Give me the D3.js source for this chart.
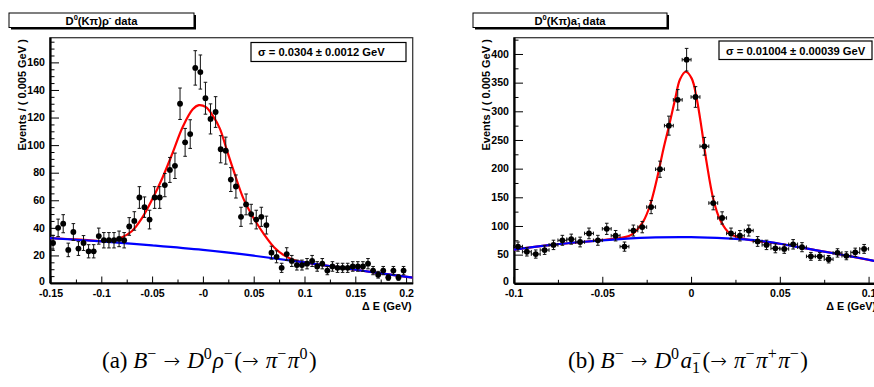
<!DOCTYPE html>
<html><head><meta charset="utf-8">
<script src="https://cdn.jsdelivr.net/npm/d3@7"></script>
<style>body{margin:0;background:#fff}svg{display:block}</style>
</head><body>
<svg id="c" width="874" height="387"></svg>
<script>
// ---------------- data ----------------
const binWidth = 0.005;
const rhoBinStart = -0.15;
const rhoCounts = [29,40,43,24,37,25,29,23,23,34,
                   31,31,31,32,31,41,45,62,55,46,
                   62,62,71,82,85,130,102,108,156,153,
                   134,119,124,97,96,75,70,48,57,50,
                   46,48,42,22,19,11,21,16,13,13,
                   14,16,12,14,9,12,11,11,11,12,
                   12,12,14,9,6,9,4,9,4,9];
const a1BinStart = -0.1;
const a1Counts = [64,55,51,58,67,75,77,72,87,75,
                  95,83,64,92,98,133,199,275,320,390,
                  325,239,140,114,87,83,92,73,67,61,
                  60,68,63,47,47,42,53,48,54,60];

// fit curves: [deltaE, events]
const rhoTotalFit = [[-0.1505,32.5],[-0.12,31.4],[-0.1,30.4],[-0.09,31],[-0.08,33],[-0.07,37.5],
  [-0.06,47],[-0.05,60.5],[-0.04,76],[-0.03,94],[-0.02,113],[-0.01,126],[-0.004,129],
  [0.003,127.5],[0.01,121],[0.0167,112],[0.0233,97],[0.03,82],[0.04,61],[0.05,47],
  [0.06,35.5],[0.07,26],[0.08,20],[0.09,16.5],[0.1,14.9],[0.15,9.6],[0.2065,3.9]];
const rhoBkgFit = [[-0.1505,32.5],[-0.1,30.2],[-0.05,27.3],[0,24],[0.05,19.8],[0.1,14.9],[0.15,9.6],[0.2065,3.9]];

const a1TotalFit = [[-0.1,58.5],[-0.08,66.5],[-0.06,72.5],[-0.045,77],[-0.04,79],[-0.035,82.5],
  [-0.0325,87],[-0.03,95],[-0.0269,108],[-0.023,137],[-0.0193,181],[-0.0156,234],[-0.0124,275],
  [-0.009,321],[-0.0062,356],[-0.003,369],[0.0004,357],[0.0032,322],[0.006,269],[0.0088,210],
  [0.0126,146],[0.0163,111],[0.022,86.5],[0.0276,79.5],[0.035,74.5],[0.05,69],[0.07,58],
  [0.09,47],[0.105,38]];
const a1BkgFit = [[-0.1,58.5],[-0.08,66.5],[-0.06,72.5],[-0.04,77],[-0.02,80],[0,80.5],[0.02,78.5],
  [0.03,76.5],[0.04,73.5],[0.05,69],[0.06,63.5],[0.07,58],[0.08,52.5],[0.09,47],[0.1,41],[0.105,38]];

const rhoXTicks = [-0.15,-0.1,-0.05,0,0.05,0.1,0.15,0.2];
const rhoXTickLabels = ["-0.15","-0.1","-0.05","-0","0.05","0.1","0.15","0.2"];
const rhoYTicks = [0,20,40,60,80,100,120,140,160];
const a1XTicks = [-0.1,-0.05,0,0.05,0.1];
const a1XTickLabels = ["-0.1","-0.05","0","0.05","0.1"];
const a1YTicks = [0,50,100,150,200,250,300,350,400];

const yAxisTitle = "Events / ( 0.005 GeV )";
const xAxisTitle = "\u0394 E (GeV)";
const rhoSigmaText = "\u03c3 =  0.0304 \u00b1 0.0012 GeV";
const a1SigmaText = "\u03c3 =  0.01004 \u00b1 0.00039 GeV";

// ---------------- drawing ----------------
const svg = d3.select("#c");
const SANS = "'Liberation Sans', Arial, Helvetica, sans-serif";
const SERIF = "'Liberation Serif', 'Times New Roman', serif";

function drawPanel(p) {
  const x = d3.scaleLinear().domain(p.xDomain).range([p.left, p.right]);
  const y = d3.scaleLinear().domain(p.yDomain).range([p.bottom, p.top]);
  const g = svg.append("g");

  g.append("rect").attr("x", p.left).attr("y", p.top)
    .attr("width", p.right - p.left).attr("height", p.bottom - p.top)
    .attr("fill", "none").attr("stroke", "#3a3a3a").attr("stroke-width", 1.3);

  const clipId = "clip" + p.id;
  svg.append("clipPath").attr("id", clipId).append("rect")
    .attr("x", p.left).attr("y", p.top).attr("width", p.right - p.left).attr("height", p.bottom - p.top);

  const yMinor = d3.range(p.yDomain[0], p.yDomain[1], p.yMinorStep).filter(v => p.yTicks.indexOf(v) < 0);
  g.append("g").attr("transform", `translate(${p.left},0)`)
    .call(d3.axisLeft(y).tickValues(yMinor).tickSize(-4.5).tickSizeOuter(0).tickFormat(""))
    .call(a => { a.select(".domain").remove(); a.selectAll("line").attr("stroke", "#000").attr("stroke-width", 1); });
  const xMinor = p.xTicks.map(v => v + p.xMinorStep).filter(v => v < p.xDomain[1]);
  g.append("g").attr("transform", `translate(0,${p.bottom})`)
    .call(d3.axisBottom(x).tickValues(xMinor).tickSize(-3.5).tickSizeOuter(0).tickFormat(""))
    .call(a => { a.select(".domain").remove(); a.selectAll("line").attr("stroke", "#000").attr("stroke-width", 1); });

  const ya = g.append("g").attr("transform", `translate(${p.left},0)`)
    .call(d3.axisLeft(y).tickValues(p.yTicks).tickSize(-9).tickSizeOuter(0).tickPadding(5));
  const xa = g.append("g").attr("transform", `translate(0,${p.bottom})`)
    .call(d3.axisBottom(x).tickValues(p.xTicks).tickSize(-6.5).tickSizeOuter(0).tickPadding(6)
      .tickFormat((d, i) => p.xTickLabels[i]));
  [ya, xa].forEach(a => {
    a.select(".domain").attr("stroke", "#000").attr("stroke-width", 2.2);
    a.selectAll(".tick line").attr("stroke", "#000").attr("stroke-width", 1);
    a.selectAll("text").attr("font-family", SANS).attr("font-weight", "bold")
      .attr("font-size", 10.6).attr("fill", "#000");
  });
  ya.selectAll("text").attr("dy", d => d === 0 ? "0.12em" : "0.3em");
  ya.select(".domain").attr("d", `M0.5,${p.bottom}V${p.top}`);

  const line = d3.line().x(d => x(d[0])).y(d => y(d[1])).curve(d3.curveCatmullRom.alpha(0.5));
  const cg = g.append("g").attr("clip-path", `url(#${clipId})`);
  cg.append("path").datum(p.total).attr("d", line).attr("fill", "none")
    .attr("stroke", "#ff0000").attr("stroke-width", 2.2);
  cg.append("path").datum(p.bkg).attr("d", line).attr("fill", "none")
    .attr("stroke", "#0000ff").attr("stroke-width", 2.2);

  const pts = p.counts.map((c, i) => ({ c: p.binStart + binWidth * (i + 0.5), v: c, e: Math.sqrt(c) }));
  const eg = g.append("g").attr("stroke", "#111").attr("stroke-width", 1);
  const hw = binWidth / 2;
  pts.forEach(d => {
    const cx = x(d.c), y1 = y(d.v - d.e), y2 = y(d.v + d.e);
    eg.append("line").attr("x1", cx).attr("x2", cx).attr("y1", y1).attr("y2", y2);
    eg.append("line").attr("x1", cx - 1.8).attr("x2", cx + 1.8).attr("y1", y1).attr("y2", y1);
    eg.append("line").attr("x1", cx - 1.8).attr("x2", cx + 1.8).attr("y1", y2).attr("y2", y2);
    const xl = x(d.c - hw), xr = x(d.c + hw), cy = y(d.v);
    eg.append("line").attr("x1", xl).attr("x2", xr).attr("y1", cy).attr("y2", cy);
    if (p.hCaps) {
      eg.append("line").attr("x1", xl).attr("x2", xl).attr("y1", cy - 1.8).attr("y2", cy + 1.8);
      eg.append("line").attr("x1", xr).attr("x2", xr).attr("y1", cy - 1.8).attr("y2", cy + 1.8);
    }
  });
  g.append("g").selectAll("circle").data(pts).join("circle")
    .attr("cx", d => x(d.c)).attr("cy", d => y(d.v)).attr("r", 2.9).attr("fill", "#000");

  g.append("text").attr("transform", `translate(${p.yTitleX},${p.top + 1.5}) rotate(-90)`)
    .attr("text-anchor", "end").attr("font-family", SANS).attr("font-weight", "bold")
    .attr("font-size", 11).text(yAxisTitle);
  g.append("text").attr("x", p.right - 1).attr("y", 310).attr("text-anchor", "end")
    .attr("font-family", SANS).attr("font-weight", "bold").attr("font-size", 10.8).text(xAxisTitle);

  g.append("rect").attr("x", p.sigBox[0]).attr("y", p.sigBox[1]).attr("width", p.sigBox[2]).attr("height", p.sigBox[3])
    .attr("fill", "#fff").attr("stroke", "#000").attr("stroke-width", 1.2);
  g.append("text").attr("x", p.sigBox[0] + 7).attr("y", p.sigBox[1] + 13.7)
    .attr("font-family", SANS).attr("font-weight", "bold").attr("font-size", 11.2).text(p.sigText);

  const tb = p.titleBox;
  g.append("rect").attr("x", tb[0] + 2).attr("y", tb[1] + 2).attr("width", tb[2]).attr("height", tb[3]).attr("fill", "#000");
  g.append("rect").attr("x", tb[0]).attr("y", tb[1]).attr("width", tb[2]).attr("height", tb[3])
    .attr("fill", "#fff").attr("stroke", "#000").attr("stroke-width", 1);
  const tt = g.append("text").attr("x", tb[0] + tb[2] / 2).attr("y", tb[1] + 12).attr("text-anchor", "middle")
    .attr("font-family", SANS).attr("font-weight", "bold").attr("font-size", 11.2);
  p.titleParts.forEach(t => {
    const s = tt.append("tspan").text(t.t);
    if (t.sup) s.attr("font-size", 7.5).attr("dy", -4.8);
    if (t.sub) s.attr("font-size", 7.5).attr("dy", 2.5);
    if (t.dx) s.attr("dx", t.dx);
    if (t.back) s.attr("dy", t.back);
  });
}

drawPanel({
  id: "a", left: 50, right: 412.7, top: 37.7, bottom: 283,
  xDomain: [-0.1505, 0.2065], yDomain: [0, 177.9],
  xTicks: rhoXTicks, xTickLabels: rhoXTickLabels, yTicks: rhoYTicks,
  xMinorStep: 0.025, yMinorStep: 5,
  counts: rhoCounts, binStart: rhoBinStart, total: rhoTotalFit, bkg: rhoBkgFit, hCaps: false,
  yTitleX: 26, sigBox: [251, 42.5, 155, 19], sigText: rhoSigmaText,
  titleBox: [9, 13, 185, 14.5],
  titleParts: [{t: "D"}, {t: "0", sup: 1}, {t: "(K\u03c0)\u03c1", back: 4.8}, {t: "-", sup: 1}, {t: " data", back: 4.8}]
});
drawPanel({
  id: "b", left: 514, right: 877, top: 37.7, bottom: 283.3,
  xDomain: [-0.09975, 0.10475], yDomain: [0, 428.4],
  xTicks: a1XTicks, xTickLabels: a1XTickLabels, yTicks: a1YTicks,
  xMinorStep: 0.025, yMinorStep: 25,
  counts: a1Counts, binStart: a1BinStart, total: a1TotalFit, bkg: a1BkgFit, hCaps: true,
  yTitleX: 490, sigBox: [719, 41, 153, 18.5], sigText: a1SigmaText,
  titleBox: [473, 13, 194, 14.5],
  titleParts: [{t: "D"}, {t: "0", sup: 1}, {t: "(K\u03c0)a", back: 4.8}, {t: "1", sub: 1},
               {t: "-", sup: 1, dx: -4.2, back: -7.3}, {t: " data", back: 4.8}]
});

// ---------------- captions ----------------
const ARROW = "'DejaVu Sans', 'Liberation Serif', serif";
function caption(x0, parts) {
  const t = svg.append("text").attr("x", x0).attr("y", 368)
    .attr("font-family", SERIF).attr("font-size", 23).attr("fill", "#000");
  let shift = 0;
  parts.forEach(p => {
    const s = t.append("tspan").text(p.t);
    let target = 0;
    if (p.i) s.attr("font-style", "italic");
    if (p.arrow) s.attr("font-family", ARROW).attr("font-size", 20).attr("font-weight", 200);
    if (p.sup) { s.attr("font-size", 16); target = -9; }
    if (p.sub) { s.attr("font-size", 16); target = 5; }
    if (p.dx) s.attr("dx", p.dx);
    if (target !== shift) { s.attr("dy", target - shift); shift = target; }
  });
}
caption(102, [{t: "(a) "}, {t: "B", i: 1}, {t: "\u2212", sup: 1}, {t: "\u2192", arrow: 1, dx: 7}, {t: "D", i: 1, dx: 7}, {t: "0", sup: 1},
  {t: "\u03c1", i: 1, dx: 1}, {t: "\u2212", sup: 1}, {t: "(", dx: 1.5}, {t: "\u2192", arrow: 1}, {t: "\u03c0", i: 1, dx: 7}, {t: "\u2212", sup: 1},
  {t: "\u03c0", i: 1, dx: 1.5}, {t: "0", sup: 1}, {t: ")", dx: 1.5}]);
caption(568, [{t: "(b) "}, {t: "B", i: 1}, {t: "\u2212", sup: 1}, {t: "\u2192", arrow: 1, dx: 7}, {t: "D", i: 1, dx: 7}, {t: "0", sup: 1},
  {t: "a", i: 1, dx: 1.5}, {t: "1", sub: 1}, {t: "\u2212", sup: 1, dx: -8}, {t: "(", dx: 1.5}, {t: "\u2192", arrow: 1}, {t: "\u03c0", i: 1, dx: 7}, {t: "\u2212", sup: 1},
  {t: "\u03c0", i: 1, dx: 1.5}, {t: "+", sup: 1}, {t: "\u03c0", i: 1, dx: 1.5}, {t: "\u2212", sup: 1}, {t: ")", dx: 1.5}]);
</script>
</body></html>
